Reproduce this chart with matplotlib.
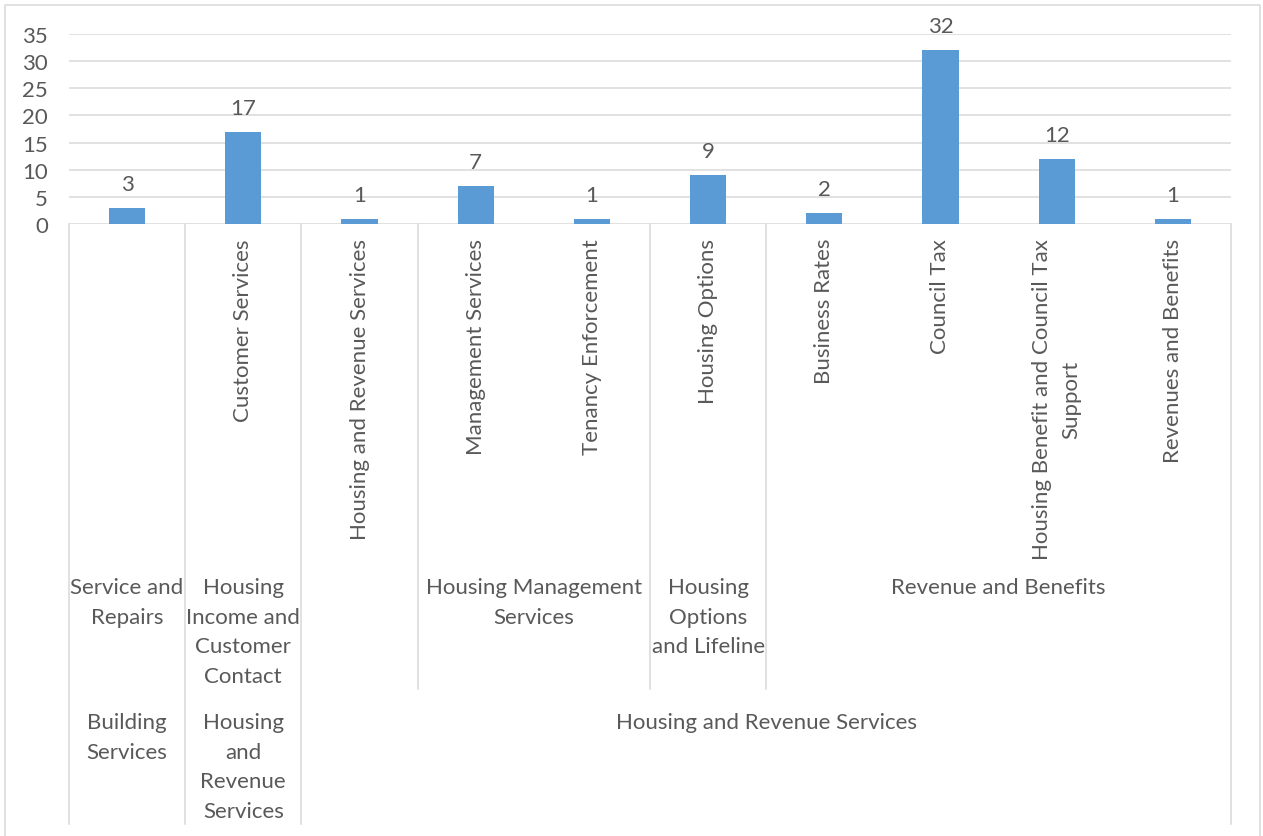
import numpy as np
import matplotlib
matplotlib.use("Agg")
import matplotlib.pyplot as plt
from matplotlib.transforms import blended_transform_factory
from matplotlib.lines import Line2D

# Complaint counts by service, three-level category axis
services = [
    "", "Customer Services", "Housing and Revenue Services",
    "Management Services", "Tenancy Enforcement", "Housing Options",
    "Business Rates", "Council Tax", "Housing Benefit and Council Tax\nSupport",
    "Revenues and Benefits",
]
counts = [3, 17, 1, 7, 1, 9, 2, 32, 12, 1]

# (label, first category index, number of categories)
teams = [
    ("Service and\nRepairs", 0, 1),
    ("Housing\nIncome and\nCustomer\nContact", 1, 1),
    ("", 2, 1),
    ("Housing Management\nServices", 3, 2),
    ("Housing\nOptions\nand Lifeline", 5, 1),
    ("Revenue and Benefits", 6, 4),
]
directorates = [
    ("Building\nServices", 0, 1),
    ("Housing\nand\nRevenue\nServices", 1, 1),
    ("Housing and Revenue Services", 2, 8),
]

W, H = 1263, 837
GREY = "#D9D9D9"
TEXT = "#595959"
BLUE = "#5B9BD5"
FONT = "Lato"
FS = 16
LS = 1.6


def fy(px):
    # pixel row (from top) -> figure fraction
    return 1 - px / H


fig = plt.figure(figsize=(W / 100, H / 100), dpi=100)
ax = fig.add_axes([69 / W, fy(225), (1231 - 69) / W, (225 - 35) / H])

x = np.arange(len(counts))
ax.bar(x, counts, width=0.31, color=BLUE, zorder=3)
ax.set_xlim(-0.5, len(counts) - 0.5)
ax.set_ylim(0, 35)
ax.set_yticks(np.arange(0, 36, 5))
ax.yaxis.grid(True, color=GREY, linewidth=1.1)
ax.set_axisbelow(True)
ax.set_xticks([])
for s in ax.spines.values():
    s.set_visible(False)
ax.tick_params(axis="y", length=0, pad=15, labelsize=FS, labelcolor=TEXT)
for lab in ax.get_yticklabels():
    lab.set_fontfamily(FONT)

for xi, v in zip(x, counts):
    ax.annotate(str(v), (xi, v), xytext=(0, 13), textcoords="offset points",
                ha="center", va="baseline", fontsize=FS, color=TEXT, family=FONT)

tr = blended_transform_factory(ax.transData, fig.transFigure)

# level 0: rotated service names
for xi, name in zip(x, services):
    if name:
        ax.text(xi, fy(239), name, transform=tr, rotation=90, ha="center", va="top",
                multialignment="center", fontsize=FS, color=TEXT, family=FONT,
                linespacing=LS)

# level 1 and 2 group labels
for groups, top in ((teams, 578), (directorates, 713)):
    for label, start, n in groups:
        if label:
            ax.text(start + (n - 1) / 2, fy(top), label, transform=tr,
                    ha="center", va="top", multialignment="center",
                    fontsize=FS, color=TEXT, family=FONT, linespacing=LS)

# separators: full depth at directorate edges, shorter at team edges
dir_edges = {s - 0.5 for _, s, _ in directorates} | {s + n - 0.5 for _, s, n in directorates}
team_edges = {s - 0.5 for _, s, _ in teams} | {s + n - 0.5 for _, s, n in teams}
for e in sorted(dir_edges | team_edges):
    bottom = 825 if e in dir_edges else 690
    ax.add_line(Line2D([e, e], [fy(225), fy(bottom)], transform=tr,
                       color=GREY, linewidth=1.1, clip_on=False))

# chart area border
fig.add_artist(Line2D([5 / W, 5 / W, 1260 / W, 1260 / W], [0, fy(6), fy(6), 0],
                      transform=fig.transFigure, color=GREY, linewidth=1.1))

fig.savefig("out.png", dpi=100)
